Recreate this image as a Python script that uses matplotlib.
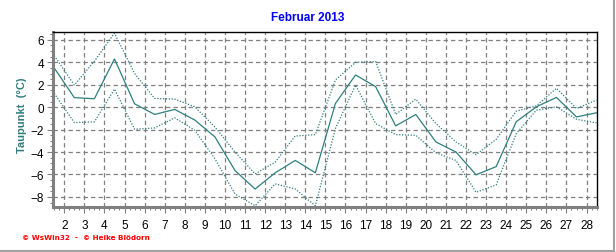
import matplotlib
matplotlib.use("Agg")
import matplotlib.pyplot as plt
from matplotlib.lines import Line2D
from matplotlib.ticker import MultipleLocator

# daily dew point values, February 2013 (plotted at mid-day)
days = list(range(1, 29))
mean_vals = [3.5, 0.85, 0.75, 4.3, 0.3, -0.65, -0.2, -1.15, -2.65, -5.65,
             -7.3, -5.85, -4.75, -5.85, 0.33, 2.87, 1.83, -1.67, -0.65, -3.1,
             -4.0, -6.03, -5.3, -1.3, 0.03, 0.87, -0.87, -0.5]
max_vals = [4.6, 1.97, 4.1, 6.6, 3.0, 0.78, 0.72, 0.03, -1.77, -4.0,
            -5.95, -4.9, -2.57, -2.45, 2.42, 4.0, 4.07, -0.65, 0.72, -1.46,
            -3.1, -4.24, -2.87, -0.36, 0.12, 1.68, -0.12, 0.63]
min_vals = [1.23, -1.37, -1.31, 1.61, -1.97, -1.85, -0.95, -2.06, -4.6, -7.74,
            -8.79, -6.84, -7.29, -8.79, -1.9, 1.97, -1.46, -2.45, -2.51, -4.06,
            -4.75, -7.59, -6.93, -2.36, -0.27, 0.03, -1.08, -1.4]
xticks = list(range(2, 29))
yticks = [-8, -6, -4, -2, 0, 2, 4, 6]

line_color = "#2F7F7F"
grid_color = "#808080"

plt.rcParams["font.family"] = ["Liberation Sans", "DejaVu Sans"]

fig = plt.figure(figsize=(6.16, 2.53), dpi=100)
ax = fig.add_axes([53 / 616, 45 / 253, 544 / 616, 175 / 253])

x = [d + 0.5 for d in days]
ax.plot(x, max_vals, color=line_color, lw=0.9, linestyle=(0, (1, 1.3)))
ax.plot(x, min_vals, color=line_color, lw=0.9, linestyle=(0, (1, 1.3)))
ax.plot(x, mean_vals, color=line_color, lw=0.9)

ax.set_xlim(1.44, 28.52)
ax.set_ylim(-8.9, 6.7)
ax.set_xticks(xticks)
ax.set_yticks(yticks)
ax.xaxis.set_minor_locator(MultipleLocator(0.25))
ax.yaxis.set_minor_locator(MultipleLocator(0.5))

ax.grid(True, which="major", color=grid_color, linestyle=(0, (3.5, 2.5)), lw=0.9)
ax.set_axisbelow(True)

for side in ("left", "bottom"):
    ax.spines[side].set_color(grid_color)
    ax.spines[side].set_linewidth(2.2)
for side in ("top", "right"):
    ax.spines[side].set_color("black")
    ax.spines[side].set_linewidth(1.0)

ax.tick_params(axis="both", which="major", length=4, width=0.8,
               color=grid_color, labelsize=8.5, direction="out")
ax.tick_params(axis="both", which="minor", length=2, width=0.7,
               color=grid_color, direction="out")
ax.tick_params(axis="x", pad=5)
ax.tick_params(axis="y", pad=2.5)

fig.text(0.5, 1 - 18 / 253, "Februar 2013", color="#0000FF",
         fontsize=8.5, fontweight="bold", ha="center", va="center")
fig.text(22 / 616, 1 - 115 / 253, "Taupunkt  (°C)", color=line_color,
         fontsize=8, fontweight="bold", rotation=90, ha="center", va="center")
fig.text(22 / 616, 1 - 238 / 253, "© WsWin32  -  © Heike Blödorn",
         color="#FF0000", fontsize=5.2, fontweight="bold",
         family=["DejaVu Sans"], ha="left", va="center")

# outer frame lines (right and bottom)
fig.add_artist(Line2D([613.5 / 616, 613.5 / 616], [1.5 / 253, 1.0],
                      transform=fig.transFigure, color="#A0A0A0", lw=1.5))
fig.add_artist(Line2D([0, 613.5 / 616], [1.5 / 253, 1.5 / 253],
                      transform=fig.transFigure, color="#A0A0A0", lw=1.5))

fig.savefig("out.png", dpi=100)
